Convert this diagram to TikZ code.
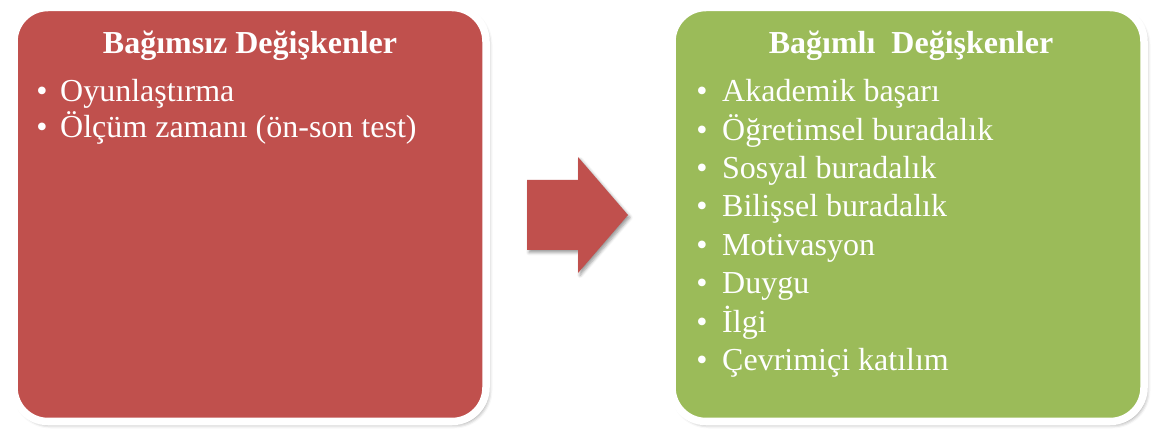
\documentclass[tikz,border=0pt]{standalone}
\usepackage{fontspec}
\setmainfont{Liberation Serif}
\usetikzlibrary{shadows.blur}
\definecolor{boxred}{HTML}{C0504D}
\definecolor{boxgreen}{HTML}{9BBB59}

\tikzset{
  panel/.style={draw=white, line width=7.5pt, rounded corners=34pt,
    minimum width=472pt, minimum height=414pt, inner sep=0pt,
    blur shadow={shadow xshift=2.5pt, shadow yshift=-3pt,
      shadow blur radius=4pt, shadow opacity=45}},
  heading/.style={text=white, inner sep=0pt, anchor=base,
    font=\bfseries\fontsize{32}{38}\selectfont},
  item/.style={text=white, inner sep=0pt, anchor=base west,
    font=\fontsize{32}{38}\selectfont},
  dot/.style={text=white, inner sep=0pt, anchor=base,
    font=\fontsize{32}{38}\selectfont},
  flow/.style={fill=boxred, draw=none,
    blur shadow={shadow xshift=2pt, shadow yshift=-2.5pt,
      shadow blur radius=3pt, shadow opacity=40}}
}

\begin{document}
\begin{tikzpicture}[x=1pt, y=-1pt]
\useasboundingbox (0,0) rectangle (1152,430);

% two panels
\node[panel, fill=boxred]   (indep) at (250,214.5) {};
\node[panel, fill=boxgreen] (dep)   at (908,214.5) {};

% headings
\node[heading] (indepT) at (250,54) {Bağımsız Değişkenler};
\node[heading] (depT)   at (911,54) {Bağımlı\ \ Değişkenler};

% independent variables
\foreach \t [count=\i] in {Oyunlaştırma, Ölçüm zamanı (ön-son test)} {
  \node[dot]  (ib\i) at (42,{102+35.6*(\i-1)}) {•};
  \node[item] (it\i) at (60,{102+35.6*(\i-1)}) {\t};
}

% dependent variables
\foreach \t [count=\i] in {Akademik başarı, Öğretimsel buradalık,
    Sosyal buradalık, Bilişsel buradalık, Motivasyon, Duygu, İlgi,
    Çevrimiçi katılım} {
  \node[dot]  (db\i) at (702,{101.7+38.4*(\i-1)}) {•};
  \node[item] (dt\i) at (722,{101.7+38.4*(\i-1)}) {\t};
}

% block arrow between the panels
\path[flow] (527,180) -- (578,180) -- (578,157) -- (628,215)
  -- (578,273) -- (578,250) -- (527,250) -- cycle;
\end{tikzpicture}
\end{document}
